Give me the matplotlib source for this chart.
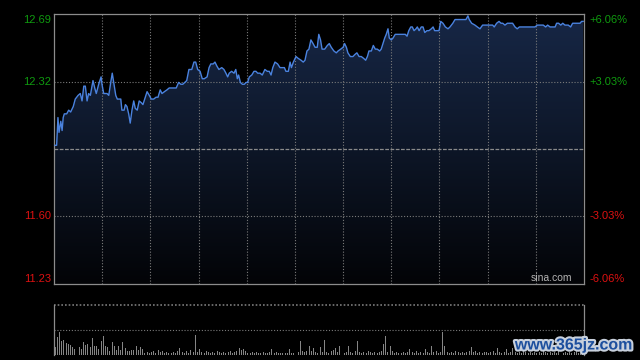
import numpy as np
import matplotlib.pyplot as plt
import matplotlib.patheffects as pe
from matplotlib.colors import LinearSegmentedColormap
from matplotlib.patches import Polygon

plt.rcParams['font.family'] = ['Liberation Sans', 'DejaVu Sans']

# price axis range and previous close
prev_close = 11.96
price_low, price_high = 11.23, 12.69
session_len = 242

left_ticks = [12.69, 12.32, 11.60, 11.23]
right_labels = ['+6.06%', '+3.03%', '-3.03%', '-6.06%']

# intraday trace (minute of session, price)
minutes = [
    0.5, 1.2, 1.8, 2.3, 3.1, 3.7, 4.2, 4.7, 5.8, 6.7,
    7.6, 8.8, 9.7, 11.0, 12.0, 12.8, 13.6, 14.3, 15.1, 15.8,
    16.6, 17.8, 18.6, 19.3, 20.4, 21.5, 21.9, 22.7, 24.2, 25.0,
    25.9, 26.6, 27.4, 28.2, 28.9, 30.0, 30.5, 31.0, 32.0, 32.6,
    33.3, 34.1, 34.8, 35.6, 36.4, 37.1, 38.0, 38.9, 39.9, 40.6,
    41.4, 42.5, 43.5, 44.4, 45.5, 46.6, 47.5, 48.5, 49.3, 50.4,
    51.6, 52.6, 53.6, 54.7, 55.8, 56.9, 57.9, 58.8, 59.7, 60.6,
    61.6, 62.9, 63.9, 64.7, 65.6, 66.7, 67.7, 68.6, 69.9, 70.8,
    71.6, 72.7, 73.5, 74.3, 75.3, 76.6, 77.6, 78.5, 79.3, 80.0,
    81.1, 82.2, 83.0, 83.7, 84.3, 85.1, 86.0, 86.9, 87.7, 88.4,
    89.2, 90.3, 91.3, 92.2, 93.0, 94.1, 95.1, 96.3, 97.4, 98.3,
    99.1, 99.9, 100.9, 102.1, 103.2, 104.2, 105.2, 105.9, 107.0, 107.8,
    108.4, 109.3, 110.5, 111.5, 112.8, 113.8, 114.6, 115.5, 116.4, 117.3,
    118.3, 119.2, 120.2, 120.9, 121.7,
    122.4, 123.6, 124.8, 125.7, 126.6, 127.8, 128.9, 129.7, 130.9, 132.0,
    132.7, 133.5, 134.2, 135.3, 136.5, 137.3, 138.3, 139.3, 140.3, 141.4,
    142.3, 143.1, 143.8, 144.9, 145.8, 146.7, 147.6, 148.7, 149.4, 150.2,
    151.0, 151.7, 152.5, 153.1, 154.0, 154.8, 155.8, 160.4, 161.2, 162.0,
    162.9, 163.6, 164.4, 165.3, 165.9, 166.7, 167.7, 168.5, 169.3, 170.3,
    171.2, 172.3, 173.1, 173.8, 175.0, 175.8, 176.6, 177.6, 178.7, 179.9,
    180.8, 182.1, 183.1, 188.1, 189.0, 189.6, 190.7, 192.2, 193.3, 194.5,
    195.7, 197.6, 200.3, 201.0, 202.1, 203.2, 204.1, 204.9, 205.9, 207.0,
    209.4, 210.5, 211.5, 212.5, 219.6, 220.7, 221.9, 223.4, 224.5, 225.4,
    226.5, 227.5, 228.8, 229.5, 230.4, 231.4, 232.3, 233.3, 234.8, 235.9,
    236.8, 237.9, 240.2, 240.9, 241.6,
]
prices = [
    11.98, 11.98, 12.13, 12.05, 12.11, 12.06, 12.13, 12.15, 12.15, 12.17,
    12.16, 12.19, 12.23, 12.25, 12.26, 12.22, 12.30, 12.30, 12.22, 12.26,
    12.25, 12.33, 12.29, 12.26, 12.31, 12.35, 12.31, 12.26, 12.26, 12.25,
    12.32, 12.37, 12.31, 12.25, 12.23, 12.23, 12.23, 12.17, 12.17, 12.20,
    12.19, 12.15, 12.10, 12.17, 12.22, 12.18, 12.17, 12.22, 12.21, 12.20,
    12.23, 12.27, 12.25, 12.23, 12.23, 12.24, 12.24, 12.28, 12.26, 12.27,
    12.28, 12.29, 12.29, 12.29, 12.29, 12.32, 12.31, 12.31, 12.32, 12.33,
    12.39, 12.39, 12.43, 12.43, 12.39, 12.38, 12.34, 12.34, 12.35, 12.40,
    12.42, 12.42, 12.43, 12.41, 12.39, 12.40, 12.39, 12.37, 12.35, 12.37,
    12.38, 12.37, 12.39, 12.34, 12.36, 12.32, 12.31, 12.31, 12.32, 12.32,
    12.35, 12.36, 12.38, 12.38, 12.37, 12.37, 12.36, 12.39, 12.38, 12.38,
    12.36, 12.40, 12.43, 12.42, 12.40, 12.40, 12.40, 12.38, 12.38, 12.43,
    12.40, 12.43, 12.46, 12.45, 12.44, 12.43, 12.44, 12.49, 12.50, 12.55,
    12.53, 12.51, 12.51, 12.58, 12.55,
    12.50, 12.50, 12.52, 12.53, 12.51, 12.49, 12.48, 12.49, 12.50, 12.51,
    12.53, 12.51, 12.48, 12.46, 12.46, 12.47, 12.48, 12.46, 12.46, 12.45,
    12.44, 12.46, 12.49, 12.49, 12.52, 12.50, 12.50, 12.49, 12.50, 12.53,
    12.56, 12.58, 12.61, 12.56, 12.55, 12.56, 12.58, 12.58, 12.57, 12.60,
    12.62, 12.62, 12.60, 12.61, 12.62, 12.60, 12.62, 12.62, 12.59, 12.60,
    12.60, 12.61, 12.62, 12.60, 12.60, 12.60, 12.65, 12.64, 12.62, 12.61,
    12.62, 12.64, 12.66, 12.66, 12.68, 12.66, 12.64, 12.63, 12.62, 12.61,
    12.63, 12.63, 12.63, 12.62, 12.64, 12.65, 12.64, 12.64, 12.63, 12.64,
    12.64, 12.62, 12.61, 12.62, 12.62, 12.63, 12.63, 12.63, 12.62, 12.63,
    12.62, 12.62, 12.62, 12.64, 12.64, 12.63, 12.64, 12.63, 12.63, 12.62,
    12.64, 12.64, 12.64, 12.65, 12.65,
]

# volume per minute (hundreds of shares)
volumes = [
    8, 18, 23, 14, 15, 12, 11, 10, 8, 6, 7, 8, 6, 13, 10, 11, 8, 17, 9, 9,
    6, 14, 19, 9, 8, 4, 13, 9, 5, 9, 5, 13, 7, 4, 4, 5, 5, 9, 5, 8,
    6, 2, 3, 2, 3, 4, 2, 5, 3, 4, 2, 3, 2, 2, 3, 2, 4, 7, 3, 2,
    4, 2, 5, 3, 20, 3, 6, 3, 2, 4, 3, 2, 3, 2, 4, 3, 2, 3, 2, 3,
    4, 2, 3, 4, 7, 5, 6, 4, 2, 2, 3, 2, 3, 2, 2, 3, 2, 2, 3, 6,
    2, 3, 2, 2, 2, 2, 2, 6, 2, 2, 7, 3, 14, 4, 3, 4, 9, 4, 7, 3,
    2, 8, 3, 15, 3, 2, 4, 5, 7, 3, 9, 4, 2, 3, 9, 3, 2, 4, 14, 3,
    2, 3, 2, 4, 3, 2, 3, 2, 3, 4, 11, 19, 3, 9, 4, 2, 3, 2, 2, 3,
    2, 3, 6, 3, 2, 4, 2, 3, 2, 6, 3, 2, 9, 3, 4, 2, 3, 23, 9, 3,
    2, 3, 2, 4, 3, 2, 3, 2, 3, 4, 8, 3, 4, 2, 3, 2, 3, 3, 2, 3,
    4, 2, 7, 3, 2, 3, 6, 2, 3, 7, 3, 2, 3, 2, 4, 3, 2, 3, 2, 3,
    2, 3, 2, 4, 3, 2, 3, 2, 3, 2, 4, 3, 2, 3, 2, 3, 2, 3, 4, 2,
    3, 2,
]
volume_max = 50

fig = plt.figure(figsize=(6.4, 3.6), dpi=100, facecolor='black')
ax = fig.add_axes([54 / 640, 76 / 360, 530 / 640, 270 / 360])
ax.set_facecolor('black')

# gradient area under the price line
cmap = LinearSegmentedColormap.from_list('area', ['#030407', '#0d1627', '#172746'])
grad = np.linspace(0, 1, 256).reshape(-1, 1)
im = ax.imshow(grad, extent=[0, session_len, price_low, price_high], origin='lower',
               aspect='auto', cmap=cmap, zorder=1)
verts = [(minutes[0], price_low)] + list(zip(minutes, prices)) + [(minutes[-1], price_low)]
area = Polygon(verts, closed=True, facecolor='none', edgecolor='none')
ax.add_patch(area)
im.set_clip_path(area)

grid_kw = dict(color='#7a7a7a', lw=0.8, linestyle=(0, (1, 1.6)), zorder=2)
for k in range(1, 11):
    ax.axvline(k * 22, **grid_kw)
for v in (left_ticks[1], left_ticks[2]):
    ax.axhline(v, **grid_kw)
ax.axhline(prev_close, color='#8a8a8a', lw=0.9, linestyle=(0, (3, 1.2)), zorder=2)

ax.plot(minutes, prices, color='#4a82de', lw=1.0, zorder=3)

ax.set_xlim(0, session_len)
ax.set_ylim(price_low, price_high)
ax.set_xticks([])
ax.set_yticks([])
for s in ax.spines.values():
    s.set_color('#8c8c8c')
    s.set_linewidth(0.9)

ytr = ax.get_yaxis_transform()
vas = ['top', 'center', 'center', 'bottom']
for val, lab, va in zip(left_ticks, right_labels, vas):
    col = '#0f9a0f' if val > prev_close else '#dd1111'
    ax.text(-0.006, val - 0.008 if va == 'top' else val, f'{val:.2f}', transform=ytr,
            ha='right', va=va, color=col, fontsize=8)
    ax.text(1.011, val - 0.008 if va == 'top' else val, lab, transform=ytr,
            ha='left', va=va, color=col, fontsize=8)

ax.text(0.978, 0.005, 'sina.com', transform=ax.transAxes, ha='right', va='bottom',
        color='#b4b4b4', fontsize=7.5, zorder=4)

# volume panel
vax = fig.add_axes([54 / 640, 5 / 360, 530 / 640, 50 / 360])
vax.set_facecolor('black')
vax.bar(np.arange(len(volumes)) + 0.5, volumes, width=0.45, color='#858585', zorder=2)
vax.set_xlim(0, session_len)
vax.set_ylim(0, volume_max)
vax.axhline(volume_max / 2, **grid_kw)
vax.axhline(volume_max, color='#7a7a7a', lw=1.2, linestyle=(0, (1, 1.2)), clip_on=False)
vax.set_xticks([])
vax.set_yticks([])
vax.spines['top'].set_visible(False)
vax.spines['bottom'].set_visible(False)
for side in ('left', 'right'):
    vax.spines[side].set_color('#8c8c8c')
    vax.spines[side].set_linewidth(0.9)

fig.text(574 / 640, 15 / 360, 'www.365jz.com', ha='center', va='center',
         fontsize=11.5, fontweight='bold', color='#1d4f9e',
         path_effects=[pe.withStroke(linewidth=3, foreground='#c8d0dc')])

fig.savefig('out.png', dpi=100, facecolor='black')
